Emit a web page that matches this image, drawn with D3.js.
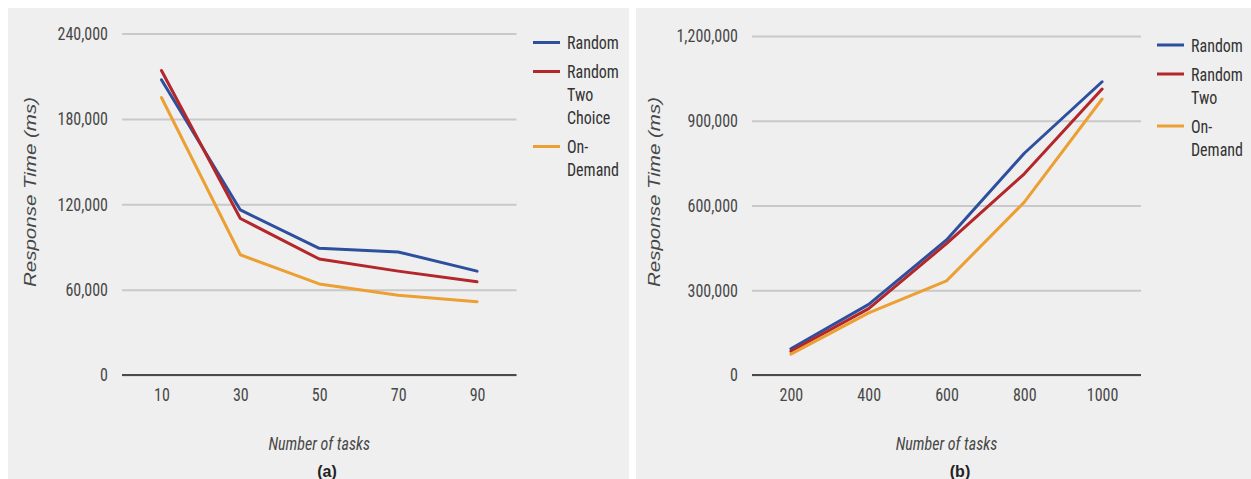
<!DOCTYPE html>
<html>
<head>
<meta charset="utf-8">
<script src="https://cdn.jsdelivr.net/npm/d3@7"></script>
<style>
  html, body { margin: 0; padding: 0; background: #ffffff; }
  svg { display: block; }
  .narrow { font-family: "Liberation Sans Narrow", "Arial Narrow", "Roboto Condensed", "Liberation Sans", sans-serif; }
</style>
</head>
<body>
<svg id="chart" width="1251" height="479"></svg>
<script>
// ---------- data ----------
const seriesNames = ["Random", "Random Two Choice", "On-Demand"];
const seriesColors = ["#2d4f9e", "#b3262a", "#ec9f33"];

const tasksA = [10, 30, 50, 70, 90];
const randomA = [207500, 116000, 89000, 86500, 73000];
const twoChoiceA = [214000, 110000, 81500, 73000, 65500];
const onDemandA = [195000, 84500, 64000, 56000, 51500];
const yTicksA = [0, 60000, 120000, 180000, 240000];
const legendA = [["Random"], ["Random", "Two", "Choice"], ["On-", "Demand"]];

const tasksB = [200, 400, 600, 800, 1000];
const randomB = [93000, 250000, 478000, 785000, 1038000];
const twoChoiceB = [84000, 235000, 465000, 712000, 1012000];
const onDemandB = [74000, 220000, 333000, 612000, 977000];
const yTicksB = [0, 300000, 600000, 900000, 1200000];
const legendB = [["Random"], ["Random", "Two"], ["On-", "Demand"]];

const xTitle = "Number of tasks";
const yTitle = "Response Time (ms)";

// ---------- drawing ----------
const svg = d3.select("#chart");
const fmt = d3.format(",");
const SY = 1.16; // vertical stretch of text, as in the reference

function panel(cfg) {
  const g = svg.append("g");
  g.append("rect")
    .attr("x", cfg.bg[0]).attr("y", cfg.bg[1])
    .attr("width", cfg.bg[2]).attr("height", cfg.bg[3])
    .attr("fill", "#efefef");

  const x = d3.scalePoint().domain(cfg.tasks).range([cfg.x0, cfg.x1]).padding(0.5);
  const y = d3.scaleLinear().domain([0, d3.max(cfg.yTicks)]).range([375, cfg.yTop]);

  // gridlines + y labels
  const ya = d3.axisLeft(y).tickValues(cfg.yTicks).tickFormat(fmt)
    .tickSize(-(cfg.x1 - cfg.x0)).tickPadding(14);
  const yg = g.append("g").attr("transform", `translate(${cfg.x0},0)`).call(ya);
  yg.select(".domain").remove();
  yg.selectAll(".tick line").attr("stroke", "#c9c9c9").attr("stroke-width", 2);
  yg.selectAll(".tick text").attr("class", "narrow").attr("font-size", 16)
    .attr("transform", `scale(1,${SY})`)
    .attr("fill", "#474747");

  // baseline
  g.append("line")
    .attr("x1", cfg.x0).attr("x2", cfg.x1)
    .attr("y1", y(0)).attr("y2", y(0))
    .attr("stroke", "#4a4a4a").attr("stroke-width", 2);

  // x labels
  const xa = d3.axisBottom(x).tickSize(0).tickPadding(11);
  const xg = g.append("g").attr("transform", `translate(0,${y(0)})`).call(xa);
  xg.select(".domain").remove();
  xg.selectAll(".tick text").attr("class", "narrow").attr("font-size", 16)
    .attr("transform", `scale(1,${SY})`)
    .attr("fill", "#474747");

  // lines
  const line = d3.line().x((d, i) => x(cfg.tasks[i])).y(d => y(d));
  cfg.series.forEach((s, i) => {
    g.append("path").datum(s)
      .attr("fill", "none")
      .attr("stroke", seriesColors[i])
      .attr("stroke-width", 3)
      .attr("stroke-linejoin", "round")
      .attr("stroke-linecap", "round")
      .attr("d", line);
  });

  // axis titles
  g.append("text")
    .attr("class", "narrow")
    .attr("transform", `translate(${(cfg.x0 + cfg.x1) / 2},443) scale(1,${SY})`)
    .attr("dy", "0.35em")
    .attr("text-anchor", "middle")
    .attr("font-size", 16).attr("font-style", "italic")
    .attr("fill", "#474747")
    .text(xTitle);

  g.append("text")
    .attr("transform", `translate(${cfg.yTitleX},192) rotate(-90)`)
    .attr("text-anchor", "middle")
    .attr("font-family", "'Liberation Sans', Arial, sans-serif")
    .attr("font-size", 16).attr("font-style", "italic")
    .attr("textLength", 190).attr("lengthAdjust", "spacingAndGlyphs")
    .attr("fill", "#474747")
    .text(yTitle);

  g.append("text")
    .attr("x", cfg.capX).attr("y", 477)
    .attr("text-anchor", "middle")
    .attr("font-family", "'Liberation Sans', Arial, sans-serif")
    .attr("font-size", 16).attr("font-weight", "bold")
    .attr("fill", "#222")
    .text(cfg.caption);

  // legend
  let ly = cfg.legendY;
  cfg.legend.forEach((lines, i) => {
    g.append("line")
      .attr("x1", cfg.legX).attr("x2", cfg.legX + 27)
      .attr("y1", ly).attr("y2", ly)
      .attr("stroke", seriesColors[i]).attr("stroke-width", 3);
    lines.forEach((t, j) => {
      g.append("text")
        .attr("class", "narrow")
        .attr("transform", `translate(${cfg.legX + 34},${ly + j * 23}) scale(1,${SY})`)
        .attr("dy", "0.35em")
        .attr("font-size", 16)
        .attr("fill", "#333")
        .text(t);
    });
    ly += lines.length * 23 + 6;
  });
}

panel({
  bg: [8, 8, 621, 471],
  tasks: tasksA, series: [randomA, twoChoiceA, onDemandA],
  yTicks: yTicksA, yTop: 33.5,
  x0: 122, x1: 516.5,
  yTitleX: 36, capX: 327, caption: "(a)",
  legend: legendA, legendY: 42.5, legX: 533
});

panel({
  bg: [636, 8, 615, 471],
  tasks: tasksB, series: [randomB, twoChoiceB, onDemandB],
  yTicks: yTicksB, yTop: 36,
  x0: 752, x1: 1141,
  yTitleX: 660, capX: 960, caption: "(b)",
  legend: legendB, legendY: 45, legX: 1157
});
</script>
</body>
</html>
